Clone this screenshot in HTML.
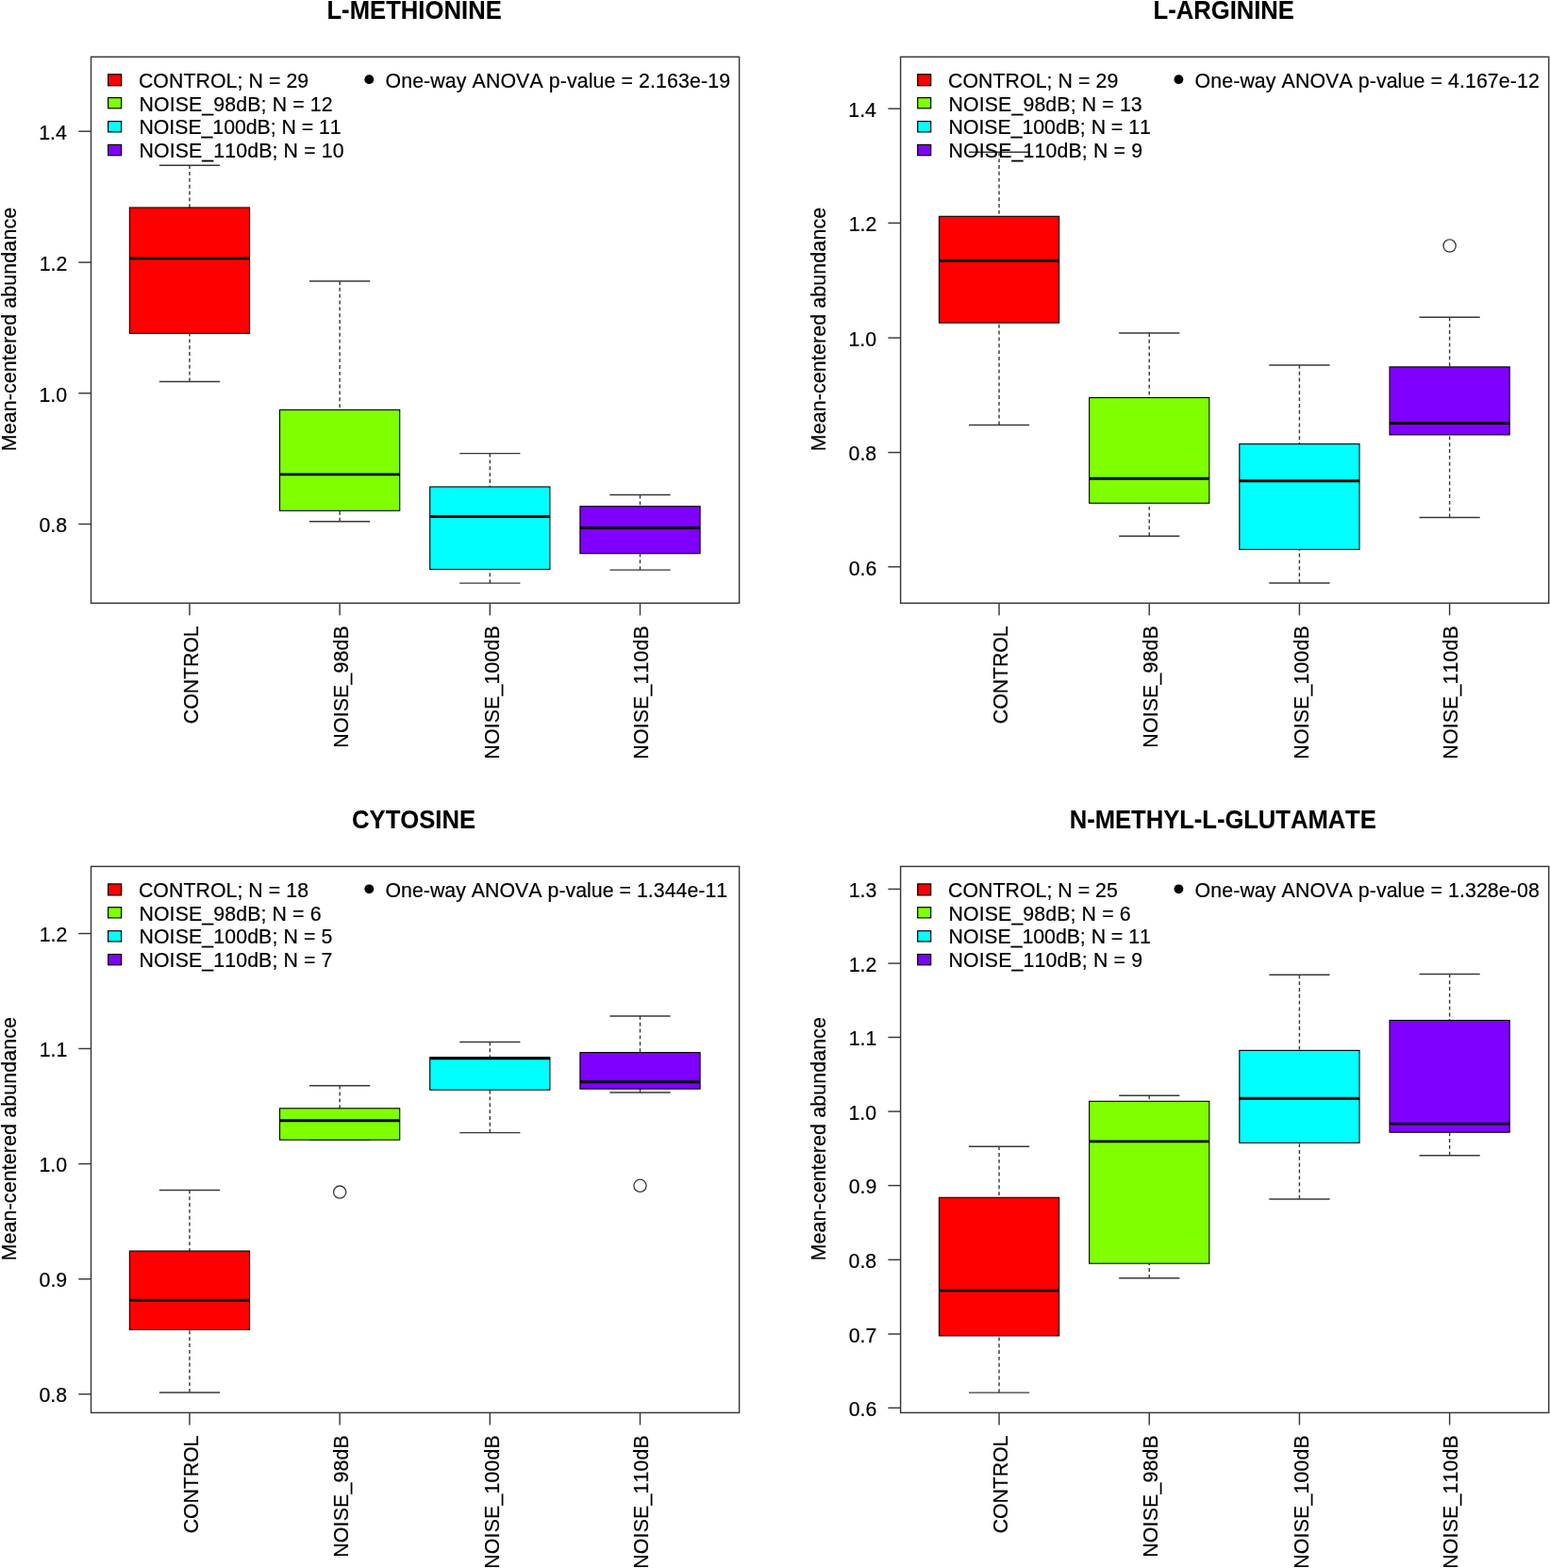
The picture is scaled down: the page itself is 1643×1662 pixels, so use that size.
<!DOCTYPE html>
<html><head><meta charset="utf-8"><title>Boxplots</title>
<style>
html,body{margin:0;padding:0;background:#fff;}
svg{display:block;}
text{font-family:"Liberation Sans",Arial,sans-serif;font-kerning:none;fill:#000;}
.t{font-size:21.3px;stroke:#000;stroke-width:0.2px;}
.tt{font-size:25.6px;font-weight:bold;stroke:#000;stroke-width:0.1px;}
.ln{stroke:#383838;stroke-width:1.45;fill:none;}
.wh{stroke:#383838;stroke-width:1.4;stroke-dasharray:3.9 2.95;fill:none;}
.bx{stroke:#000;stroke-width:1.1;}
.md{stroke:#000;stroke-width:2.9;}
.fr{stroke:#383838;stroke-width:1.45;fill:none;}
.ol{stroke:#383838;stroke-width:1.3;fill:none;}
.lg{stroke:#000;stroke-width:1.2;}
</style></head>
<body>
<svg width="1643" height="1662" viewBox="0 0 1643 1662">
<rect width="1643" height="1662" fill="#fff"/>
<g>
<line class="wh" x1="200.95" y1="175.2" x2="200.95" y2="220"/>
<line class="wh" x1="200.95" y1="404.4" x2="200.95" y2="353.4"/>
<line class="ln" x1="168.85" y1="175.2" x2="233.05" y2="175.2"/>
<line class="ln" x1="168.85" y1="404.4" x2="233.05" y2="404.4"/>
<rect class="bx" x="137.35" y="220" width="127.2" height="133.4" fill="#FF0000"/>
<line class="md" x1="137.35" y1="273.9" x2="264.55" y2="273.9"/>
<line class="wh" x1="360.13" y1="298" x2="360.13" y2="434.4"/>
<line class="wh" x1="360.13" y1="552.7" x2="360.13" y2="541.3"/>
<line class="ln" x1="328.03" y1="298" x2="392.23" y2="298"/>
<line class="ln" x1="328.03" y1="552.7" x2="392.23" y2="552.7"/>
<rect class="bx" x="296.53" y="434.4" width="127.2" height="106.9" fill="#80FF00"/>
<line class="md" x1="296.53" y1="502.9" x2="423.73" y2="502.9"/>
<line class="wh" x1="519.31" y1="480.6" x2="519.31" y2="516"/>
<line class="wh" x1="519.31" y1="618.1" x2="519.31" y2="603.5"/>
<line class="ln" x1="487.21" y1="480.6" x2="551.41" y2="480.6"/>
<line class="ln" x1="487.21" y1="618.1" x2="551.41" y2="618.1"/>
<rect class="bx" x="455.71" y="516" width="127.2" height="87.5" fill="#00FFFF"/>
<line class="md" x1="455.71" y1="547.5" x2="582.91" y2="547.5"/>
<line class="wh" x1="678.49" y1="524.5" x2="678.49" y2="536.7"/>
<line class="wh" x1="678.49" y1="604.1" x2="678.49" y2="586.7"/>
<line class="ln" x1="646.39" y1="524.5" x2="710.59" y2="524.5"/>
<line class="ln" x1="646.39" y1="604.1" x2="710.59" y2="604.1"/>
<rect class="bx" x="614.89" y="536.7" width="127.2" height="50" fill="#8000FF"/>
<line class="md" x1="614.89" y1="559.5" x2="742.09" y2="559.5"/>
<rect class="fr" x="96.5" y="60.3" width="687.1" height="579"/>
<line class="ln" x1="83.3" y1="139.2" x2="96.5" y2="139.2"/>
<text class="t" transform="translate(41.21 147.9) scale(1 1.04)">1.4</text>
<line class="ln" x1="83.3" y1="278.1" x2="96.5" y2="278.1"/>
<text class="t" transform="translate(41.66 286.8) scale(1 1.04)">1.2</text>
<line class="ln" x1="83.3" y1="416.8" x2="96.5" y2="416.8"/>
<text class="t" transform="translate(41.42 425.5) scale(1 1.04)">1.0</text>
<line class="ln" x1="83.3" y1="555.5" x2="96.5" y2="555.5"/>
<text class="t" transform="translate(41.52 564.2) scale(1 1.04)">0.8</text>
<line class="ln" x1="200.95" y1="639.3" x2="200.95" y2="652.3"/>
<text class="t" transform="translate(210.2 767.18) rotate(-90) scale(1 1.04)" style="letter-spacing:-0.06px">CONTROL</text>
<line class="ln" x1="360.13" y1="639.3" x2="360.13" y2="652.3"/>
<text class="t" transform="translate(369.33 792.65) rotate(-90) scale(1 1.04)" style="letter-spacing:0.18px">NOISE_98dB</text>
<line class="ln" x1="519.31" y1="639.3" x2="519.31" y2="652.3"/>
<text class="t" transform="translate(529.01 804.65) rotate(-90) scale(1 1.04)" style="letter-spacing:0.18px">NOISE_100dB</text>
<line class="ln" x1="678.49" y1="639.3" x2="678.49" y2="652.3"/>
<text class="t" transform="translate(687.19 804.65) rotate(-90) scale(1 1.04)" style="letter-spacing:0.18px">NOISE_110dB</text>
<text class="t" transform="translate(16.9 478.25) rotate(-90) scale(1 1)" style="letter-spacing:0.17px">Mean-centered abundance</text>
<text class="tt" transform="translate(346.39 19.8) scale(1 1.06)" style="letter-spacing:0.06px">L-METHIONINE</text>
<rect class="lg" x="114.6" y="78.8" width="14" height="12" fill="#FF0000"/>
<text class="t" transform="translate(146.92 93.1) scale(1 1.04)" style="letter-spacing:0.07px">CONTROL; N = 29</text>
<rect class="lg" x="114.6" y="103.6" width="14" height="11.2" fill="#80FF00"/>
<text class="t" transform="translate(147.45 118.2) scale(1 1.04)" style="letter-spacing:0.13px">NOISE_98dB; N = 12</text>
<rect class="lg" x="114.6" y="128.6" width="14" height="11.3" fill="#00FFFF"/>
<text class="t" transform="translate(147.45 142.05) scale(1 1.04)" style="letter-spacing:-0.03px">NOISE_100dB; N = 11</text>
<rect class="lg" x="114.6" y="153.4" width="14" height="11.3" fill="#8000FF"/>
<text class="t" transform="translate(147.45 166.9) scale(1 1.04)" style="letter-spacing:0.13px">NOISE_110dB; N = 10</text>
<circle cx="391.3" cy="84.2" r="4.9" fill="#000"/>
<text class="t" transform="translate(408.49 93.2) scale(1 1)" style="letter-spacing:0.12px">One-way ANOVA p-value = 2.163e-19</text>
</g>
<g>
<line class="wh" x1="1059.05" y1="161.3" x2="1059.05" y2="229.3"/>
<line class="wh" x1="1059.05" y1="450.4" x2="1059.05" y2="342.2"/>
<line class="ln" x1="1026.95" y1="161.3" x2="1091.15" y2="161.3"/>
<line class="ln" x1="1026.95" y1="450.4" x2="1091.15" y2="450.4"/>
<rect class="bx" x="995.45" y="229.3" width="127.2" height="112.9" fill="#FF0000"/>
<line class="md" x1="995.45" y1="276.3" x2="1122.65" y2="276.3"/>
<line class="wh" x1="1218.23" y1="353" x2="1218.23" y2="421.5"/>
<line class="wh" x1="1218.23" y1="568.2" x2="1218.23" y2="533.3"/>
<line class="ln" x1="1186.13" y1="353" x2="1250.33" y2="353"/>
<line class="ln" x1="1186.13" y1="568.2" x2="1250.33" y2="568.2"/>
<rect class="bx" x="1154.63" y="421.5" width="127.2" height="111.8" fill="#80FF00"/>
<line class="md" x1="1154.63" y1="507.2" x2="1281.83" y2="507.2"/>
<line class="wh" x1="1377.41" y1="386.9" x2="1377.41" y2="470.6"/>
<line class="wh" x1="1377.41" y1="617.9" x2="1377.41" y2="582.4"/>
<line class="ln" x1="1345.31" y1="386.9" x2="1409.51" y2="386.9"/>
<line class="ln" x1="1345.31" y1="617.9" x2="1409.51" y2="617.9"/>
<rect class="bx" x="1313.81" y="470.6" width="127.2" height="111.8" fill="#00FFFF"/>
<line class="md" x1="1313.81" y1="509.7" x2="1441.01" y2="509.7"/>
<line class="wh" x1="1536.59" y1="336.3" x2="1536.59" y2="388.9"/>
<line class="wh" x1="1536.59" y1="548.5" x2="1536.59" y2="460.9"/>
<line class="ln" x1="1504.49" y1="336.3" x2="1568.69" y2="336.3"/>
<line class="ln" x1="1504.49" y1="548.5" x2="1568.69" y2="548.5"/>
<rect class="bx" x="1472.99" y="388.9" width="127.2" height="72" fill="#8000FF"/>
<line class="md" x1="1472.99" y1="448.5" x2="1600.19" y2="448.5"/>
<circle class="ol" cx="1536.59" cy="260.5" r="6.6"/>
<rect class="fr" x="954.6" y="60.3" width="687.1" height="579"/>
<line class="ln" x1="941.4" y1="115.2" x2="954.6" y2="115.2"/>
<text class="t" transform="translate(899.31 123.9) scale(1 1.04)">1.4</text>
<line class="ln" x1="941.4" y1="236.4" x2="954.6" y2="236.4"/>
<text class="t" transform="translate(899.76 245.1) scale(1 1.04)">1.2</text>
<line class="ln" x1="941.4" y1="358.1" x2="954.6" y2="358.1"/>
<text class="t" transform="translate(899.52 366.8) scale(1 1.04)">1.0</text>
<line class="ln" x1="941.4" y1="479.6" x2="954.6" y2="479.6"/>
<text class="t" transform="translate(899.62 488.3) scale(1 1.04)">0.8</text>
<line class="ln" x1="941.4" y1="600.8" x2="954.6" y2="600.8"/>
<text class="t" transform="translate(899.63 609.5) scale(1 1.04)">0.6</text>
<line class="ln" x1="1059.05" y1="639.3" x2="1059.05" y2="652.3"/>
<text class="t" transform="translate(1068.3 767.18) rotate(-90) scale(1 1.04)" style="letter-spacing:-0.06px">CONTROL</text>
<line class="ln" x1="1218.23" y1="639.3" x2="1218.23" y2="652.3"/>
<text class="t" transform="translate(1227.43 792.65) rotate(-90) scale(1 1.04)" style="letter-spacing:0.18px">NOISE_98dB</text>
<line class="ln" x1="1377.41" y1="639.3" x2="1377.41" y2="652.3"/>
<text class="t" transform="translate(1387.11 804.65) rotate(-90) scale(1 1.04)" style="letter-spacing:0.18px">NOISE_100dB</text>
<line class="ln" x1="1536.59" y1="639.3" x2="1536.59" y2="652.3"/>
<text class="t" transform="translate(1545.29 804.65) rotate(-90) scale(1 1.04)" style="letter-spacing:0.18px">NOISE_110dB</text>
<text class="t" transform="translate(875 478.25) rotate(-90) scale(1 1)" style="letter-spacing:0.17px">Mean-centered abundance</text>
<text class="tt" transform="translate(1222.59 19.5) scale(1 1.06)" style="letter-spacing:0.01px">L-ARGININE</text>
<rect class="lg" x="972.7" y="78.8" width="14" height="12" fill="#FF0000"/>
<text class="t" transform="translate(1005.02 93.1) scale(1 1.04)" style="letter-spacing:0.07px">CONTROL; N = 29</text>
<rect class="lg" x="972.7" y="103.6" width="14" height="11.2" fill="#80FF00"/>
<text class="t" transform="translate(1005.55 118.2) scale(1 1.04)" style="letter-spacing:0.13px">NOISE_98dB; N = 13</text>
<rect class="lg" x="972.7" y="128.6" width="14" height="11.3" fill="#00FFFF"/>
<text class="t" transform="translate(1005.55 142.05) scale(1 1.04)" style="letter-spacing:-0.03px">NOISE_100dB; N = 11</text>
<rect class="lg" x="972.7" y="153.4" width="14" height="11.3" fill="#8000FF"/>
<text class="t" transform="translate(1005.55 166.9) scale(1 1.04)" style="letter-spacing:0.15px">NOISE_110dB; N = 9</text>
<circle cx="1249.4" cy="84.2" r="4.9" fill="#000"/>
<text class="t" transform="translate(1266.59 93.2) scale(1 1)" style="letter-spacing:0.11px">One-way ANOVA p-value = 4.167e-12</text>
</g>
<g>
<line class="wh" x1="200.95" y1="1261.4" x2="200.95" y2="1326"/>
<line class="wh" x1="200.95" y1="1475.9" x2="200.95" y2="1409.4"/>
<line class="ln" x1="168.85" y1="1261.4" x2="233.05" y2="1261.4"/>
<line class="ln" x1="168.85" y1="1475.9" x2="233.05" y2="1475.9"/>
<rect class="bx" x="137.35" y="1326" width="127.2" height="83.4" fill="#FF0000"/>
<line class="md" x1="137.35" y1="1378.1" x2="264.55" y2="1378.1"/>
<line class="wh" x1="360.13" y1="1150.7" x2="360.13" y2="1174.8"/>
<line class="ln" x1="328.03" y1="1150.7" x2="392.23" y2="1150.7"/>
<line class="ln" x1="328.03" y1="1208.2" x2="392.23" y2="1208.2"/>
<rect class="bx" x="296.53" y="1174.8" width="127.2" height="33.4" fill="#80FF00"/>
<line class="md" x1="296.53" y1="1187.8" x2="423.73" y2="1187.8"/>
<circle class="ol" cx="360.13" cy="1263.6" r="6.6"/>
<line class="wh" x1="519.31" y1="1104.5" x2="519.31" y2="1120.9"/>
<line class="wh" x1="519.31" y1="1200.6" x2="519.31" y2="1155.2"/>
<line class="ln" x1="487.21" y1="1104.5" x2="551.41" y2="1104.5"/>
<line class="ln" x1="487.21" y1="1200.6" x2="551.41" y2="1200.6"/>
<rect class="bx" x="455.71" y="1120.9" width="127.2" height="34.3" fill="#00FFFF"/>
<line class="md" x1="455.71" y1="1121.8" x2="582.91" y2="1121.8"/>
<line class="wh" x1="678.49" y1="1076.9" x2="678.49" y2="1115.6"/>
<line class="wh" x1="678.49" y1="1157.9" x2="678.49" y2="1154.2"/>
<line class="ln" x1="646.39" y1="1076.9" x2="710.59" y2="1076.9"/>
<line class="ln" x1="646.39" y1="1157.9" x2="710.59" y2="1157.9"/>
<rect class="bx" x="614.89" y="1115.6" width="127.2" height="38.6" fill="#8000FF"/>
<line class="md" x1="614.89" y1="1146.7" x2="742.09" y2="1146.7"/>
<circle class="ol" cx="678.49" cy="1256.8" r="6.6"/>
<rect class="fr" x="96.5" y="918.4" width="687.1" height="579"/>
<line class="ln" x1="83.3" y1="989.5" x2="96.5" y2="989.5"/>
<text class="t" transform="translate(41.66 998.2) scale(1 1.04)">1.2</text>
<line class="ln" x1="83.3" y1="1111.5" x2="96.5" y2="1111.5"/>
<text class="t" transform="translate(41.63 1120.2) scale(1 1.04)">1.1</text>
<line class="ln" x1="83.3" y1="1233.6" x2="96.5" y2="1233.6"/>
<text class="t" transform="translate(41.42 1242.3) scale(1 1.04)">1.0</text>
<line class="ln" x1="83.3" y1="1355.7" x2="96.5" y2="1355.7"/>
<text class="t" transform="translate(41.6 1364.4) scale(1 1.04)">0.9</text>
<line class="ln" x1="83.3" y1="1477.7" x2="96.5" y2="1477.7"/>
<text class="t" transform="translate(41.52 1486.4) scale(1 1.04)">0.8</text>
<line class="ln" x1="200.95" y1="1497.4" x2="200.95" y2="1510.4"/>
<text class="t" transform="translate(210.2 1625.28) rotate(-90) scale(1 1.04)" style="letter-spacing:-0.06px">CONTROL</text>
<line class="ln" x1="360.13" y1="1497.4" x2="360.13" y2="1510.4"/>
<text class="t" transform="translate(369.33 1650.75) rotate(-90) scale(1 1.04)" style="letter-spacing:0.18px">NOISE_98dB</text>
<line class="ln" x1="519.31" y1="1497.4" x2="519.31" y2="1510.4"/>
<text class="t" transform="translate(529.01 1662.75) rotate(-90) scale(1 1.04)" style="letter-spacing:0.18px">NOISE_100dB</text>
<line class="ln" x1="678.49" y1="1497.4" x2="678.49" y2="1510.4"/>
<text class="t" transform="translate(687.19 1662.75) rotate(-90) scale(1 1.04)" style="letter-spacing:0.18px">NOISE_110dB</text>
<text class="t" transform="translate(16.9 1336.35) rotate(-90) scale(1 1)" style="letter-spacing:0.17px">Mean-centered abundance</text>
<text class="tt" transform="translate(373.05 877.6) scale(1 1.06)" style="letter-spacing:0.03px">CYTOSINE</text>
<rect class="lg" x="114.6" y="936.9" width="14" height="12" fill="#FF0000"/>
<text class="t" transform="translate(146.92 951.2) scale(1 1.04)" style="letter-spacing:0.06px">CONTROL; N = 18</text>
<rect class="lg" x="114.6" y="961.7" width="14" height="11.2" fill="#80FF00"/>
<text class="t" transform="translate(147.45 976.3) scale(1 1.04)" style="letter-spacing:0.12px">NOISE_98dB; N = 6</text>
<rect class="lg" x="114.6" y="986.7" width="14" height="11.3" fill="#00FFFF"/>
<text class="t" transform="translate(147.45 1000.15) scale(1 1.04)" style="letter-spacing:0.12px">NOISE_100dB; N = 5</text>
<rect class="lg" x="114.6" y="1011.5" width="14" height="11.3" fill="#8000FF"/>
<text class="t" transform="translate(147.45 1025) scale(1 1.04)" style="letter-spacing:0.12px">NOISE_110dB; N = 7</text>
<circle cx="391.3" cy="942.3" r="4.9" fill="#000"/>
<text class="t" transform="translate(408.49 951.3) scale(1 1)" style="letter-spacing:0.03px">One-way ANOVA p-value = 1.344e-11</text>
</g>
<g>
<line class="wh" x1="1059.05" y1="1215.2" x2="1059.05" y2="1269.3"/>
<line class="wh" x1="1059.05" y1="1476.1" x2="1059.05" y2="1415.9"/>
<line class="ln" x1="1026.95" y1="1215.2" x2="1091.15" y2="1215.2"/>
<line class="ln" x1="1026.95" y1="1476.1" x2="1091.15" y2="1476.1"/>
<rect class="bx" x="995.45" y="1269.3" width="127.2" height="146.6" fill="#FF0000"/>
<line class="md" x1="995.45" y1="1367.9" x2="1122.65" y2="1367.9"/>
<line class="wh" x1="1218.23" y1="1161.2" x2="1218.23" y2="1167.3"/>
<line class="wh" x1="1218.23" y1="1354.8" x2="1218.23" y2="1339.2"/>
<line class="ln" x1="1186.13" y1="1161.2" x2="1250.33" y2="1161.2"/>
<line class="ln" x1="1186.13" y1="1354.8" x2="1250.33" y2="1354.8"/>
<rect class="bx" x="1154.63" y="1167.3" width="127.2" height="171.9" fill="#80FF00"/>
<line class="md" x1="1154.63" y1="1209.9" x2="1281.83" y2="1209.9"/>
<line class="wh" x1="1377.41" y1="1033.3" x2="1377.41" y2="1113.4"/>
<line class="wh" x1="1377.41" y1="1270.9" x2="1377.41" y2="1211.3"/>
<line class="ln" x1="1345.31" y1="1033.3" x2="1409.51" y2="1033.3"/>
<line class="ln" x1="1345.31" y1="1270.9" x2="1409.51" y2="1270.9"/>
<rect class="bx" x="1313.81" y="1113.4" width="127.2" height="97.9" fill="#00FFFF"/>
<line class="md" x1="1313.81" y1="1164.2" x2="1441.01" y2="1164.2"/>
<line class="wh" x1="1536.59" y1="1032.4" x2="1536.59" y2="1081.5"/>
<line class="wh" x1="1536.59" y1="1224.7" x2="1536.59" y2="1200.2"/>
<line class="ln" x1="1504.49" y1="1032.4" x2="1568.69" y2="1032.4"/>
<line class="ln" x1="1504.49" y1="1224.7" x2="1568.69" y2="1224.7"/>
<rect class="bx" x="1472.99" y="1081.5" width="127.2" height="118.7" fill="#8000FF"/>
<line class="md" x1="1472.99" y1="1191.1" x2="1600.19" y2="1191.1"/>
<rect class="fr" x="954.6" y="918.4" width="687.1" height="579"/>
<line class="ln" x1="941.4" y1="942.4" x2="954.6" y2="942.4"/>
<text class="t" transform="translate(899.63 951.1) scale(1 1.04)">1.3</text>
<line class="ln" x1="941.4" y1="1021.1" x2="954.6" y2="1021.1"/>
<text class="t" transform="translate(899.76 1029.8) scale(1 1.04)">1.2</text>
<line class="ln" x1="941.4" y1="1099.5" x2="954.6" y2="1099.5"/>
<text class="t" transform="translate(899.73 1108.2) scale(1 1.04)">1.1</text>
<line class="ln" x1="941.4" y1="1178.1" x2="954.6" y2="1178.1"/>
<text class="t" transform="translate(899.52 1186.8) scale(1 1.04)">1.0</text>
<line class="ln" x1="941.4" y1="1256.6" x2="954.6" y2="1256.6"/>
<text class="t" transform="translate(899.7 1265.3) scale(1 1.04)">0.9</text>
<line class="ln" x1="941.4" y1="1335.3" x2="954.6" y2="1335.3"/>
<text class="t" transform="translate(899.62 1344) scale(1 1.04)">0.8</text>
<line class="ln" x1="941.4" y1="1414" x2="954.6" y2="1414"/>
<text class="t" transform="translate(899.76 1422.7) scale(1 1.04)">0.7</text>
<line class="ln" x1="941.4" y1="1492.3" x2="954.6" y2="1492.3"/>
<text class="t" transform="translate(899.63 1501) scale(1 1.04)">0.6</text>
<line class="ln" x1="1059.05" y1="1497.4" x2="1059.05" y2="1510.4"/>
<text class="t" transform="translate(1068.3 1625.28) rotate(-90) scale(1 1.04)" style="letter-spacing:-0.06px">CONTROL</text>
<line class="ln" x1="1218.23" y1="1497.4" x2="1218.23" y2="1510.4"/>
<text class="t" transform="translate(1227.43 1650.75) rotate(-90) scale(1 1.04)" style="letter-spacing:0.18px">NOISE_98dB</text>
<line class="ln" x1="1377.41" y1="1497.4" x2="1377.41" y2="1510.4"/>
<text class="t" transform="translate(1387.11 1662.75) rotate(-90) scale(1 1.04)" style="letter-spacing:0.18px">NOISE_100dB</text>
<line class="ln" x1="1536.59" y1="1497.4" x2="1536.59" y2="1510.4"/>
<text class="t" transform="translate(1545.29 1662.75) rotate(-90) scale(1 1.04)" style="letter-spacing:0.18px">NOISE_110dB</text>
<text class="t" transform="translate(875 1336.35) rotate(-90) scale(1 1)" style="letter-spacing:0.17px">Mean-centered abundance</text>
<text class="tt" transform="translate(1133.79 877.5) scale(1 1.06)" style="letter-spacing:-0.02px">N-METHYL-L-GLUTAMATE</text>
<rect class="lg" x="972.7" y="936.9" width="14" height="12" fill="#FF0000"/>
<text class="t" transform="translate(1005.02 951.2) scale(1 1.04)" style="letter-spacing:0.04px">CONTROL; N = 25</text>
<rect class="lg" x="972.7" y="961.7" width="14" height="11.2" fill="#80FF00"/>
<text class="t" transform="translate(1005.55 976.3) scale(1 1.04)" style="letter-spacing:0.12px">NOISE_98dB; N = 6</text>
<rect class="lg" x="972.7" y="986.7" width="14" height="11.3" fill="#00FFFF"/>
<text class="t" transform="translate(1005.55 1000.15) scale(1 1.04)" style="letter-spacing:-0.03px">NOISE_100dB; N = 11</text>
<rect class="lg" x="972.7" y="1011.5" width="14" height="11.3" fill="#8000FF"/>
<text class="t" transform="translate(1005.55 1025) scale(1 1.04)" style="letter-spacing:0.15px">NOISE_110dB; N = 9</text>
<circle cx="1249.4" cy="942.3" r="4.9" fill="#000"/>
<text class="t" transform="translate(1266.59 951.3) scale(1 1)" style="letter-spacing:0.11px">One-way ANOVA p-value = 1.328e-08</text>
</g>
</svg>
</body></html>
